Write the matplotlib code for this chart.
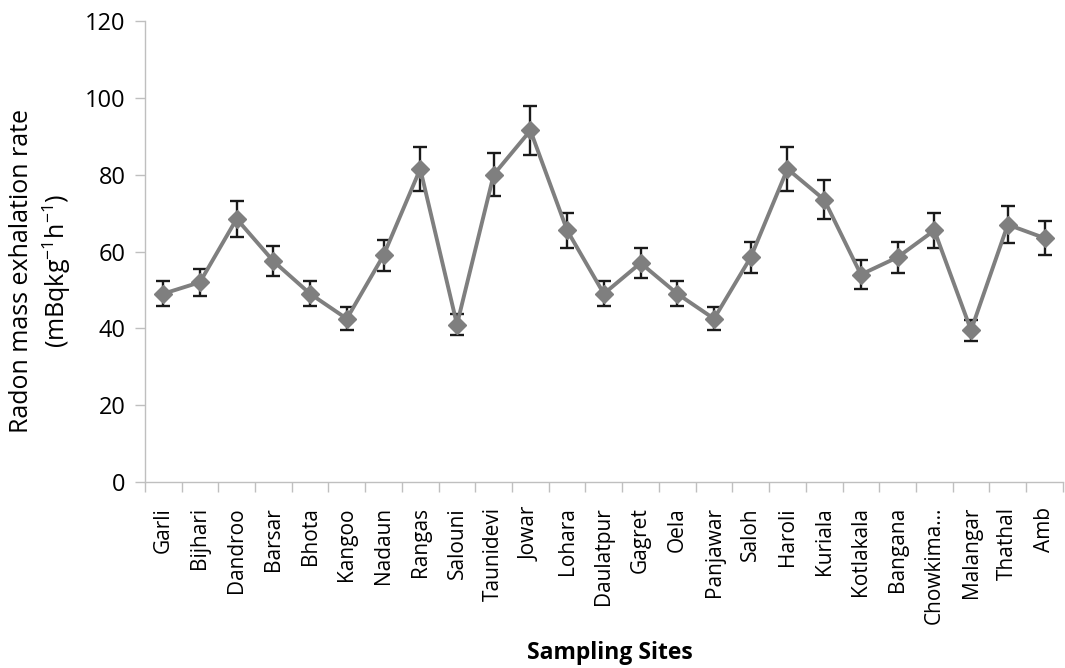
import numpy as np
import matplotlib
matplotlib.use("Agg")
import matplotlib.pyplot as plt

plt.rcParams["font.family"] = ["Open Sans", "DejaVu Sans"]
plt.rcParams["mathtext.fontset"] = "custom"
plt.rcParams["mathtext.rm"] = "Open Sans"
plt.rcParams["mathtext.it"] = "Open Sans"
plt.rcParams["mathtext.bf"] = "Open Sans:bold"

sites = ["Garli", "Bijhari", "Dandroo", "Barsar", "Bhota", "Kangoo", "Nadaun",
         "Rangas", "Salouni", "Taunidevi", "Jowar", "Lohara", "Daulatpur",
         "Gagret", "Oela", "Panjawar", "Saloh", "Haroli", "Kuriala",
         "Kotlakala", "Bangana", "Chowkima...", "Malangar", "Thathal", "Amb"]
exhalation = [49, 52, 68.5, 57.5, 49, 42.5, 59, 81.5, 41, 80, 91.5, 65.5, 49,
              57, 49, 42.5, 58.5, 81.5, 73.5, 54, 58.5, 65.5, 39.5, 67, 63.5]
errors = [3.2, 3.5, 4.7, 4.0, 3.2, 3.0, 4.0, 5.7, 2.7, 5.6, 6.3, 4.5, 3.2,
          4.0, 3.2, 3.0, 4.0, 5.7, 5.0, 3.8, 4.0, 4.5, 2.8, 4.8, 4.5]

fig = plt.figure(figsize=(10.65, 6.68), dpi=100)
ax = fig.add_axes([0.136, 0.2784, 0.862, 0.6902])

x = np.arange(len(sites))
ax.errorbar(x, exhalation, yerr=errors, fmt="none", ecolor="#1a1a1a",
            elinewidth=1.7, capsize=4.7, capthick=1.7, zorder=2)
ax.plot(x, exhalation, color="#7f7f7f", linewidth=2.8, marker="D",
        markersize=9, markerfacecolor="#7f7f7f", markeredgecolor="#7f7f7f",
        zorder=3)

ax.set_xlim(-0.5, len(sites) - 0.5)
ax.set_ylim(0, 120)
ax.set_yticks(np.arange(0, 121, 20))

ax.set_xticks(x)
ax.set_xticklabels(sites, rotation=90, fontsize=15)
ax.set_xticks(np.arange(-0.5, len(sites), 1), minor=True)
ax.tick_params(axis="x", which="major", length=0, pad=18)
ax.tick_params(axis="x", which="minor", length=7, color="#bfbfbf", width=1)
ax.tick_params(axis="y", which="major", length=7, color="#bfbfbf", width=1,
               labelsize=17, pad=7)

for side in ["top", "right"]:
    ax.spines[side].set_visible(False)
for side in ["left", "bottom"]:
    ax.spines[side].set_color("#bfbfbf")
    ax.spines[side].set_linewidth(1)

# axis titles placed by hand, as in the source figure
fig.text(41 / 1065, 1 - 271 / 668,
         "Radon mass exhalation rate\n(mBqkg$^{-1}$h$^{-1}$)",
         rotation=90, ha="center", va="center", ma="center",
         fontsize=18, fontweight="medium", linespacing=1.25)
fig.text(610 / 1065, 1 - 653 / 668, "Sampling Sites",
         ha="center", va="center", fontsize=16.5, fontweight="bold")

fig.savefig("out.png", dpi=100)
